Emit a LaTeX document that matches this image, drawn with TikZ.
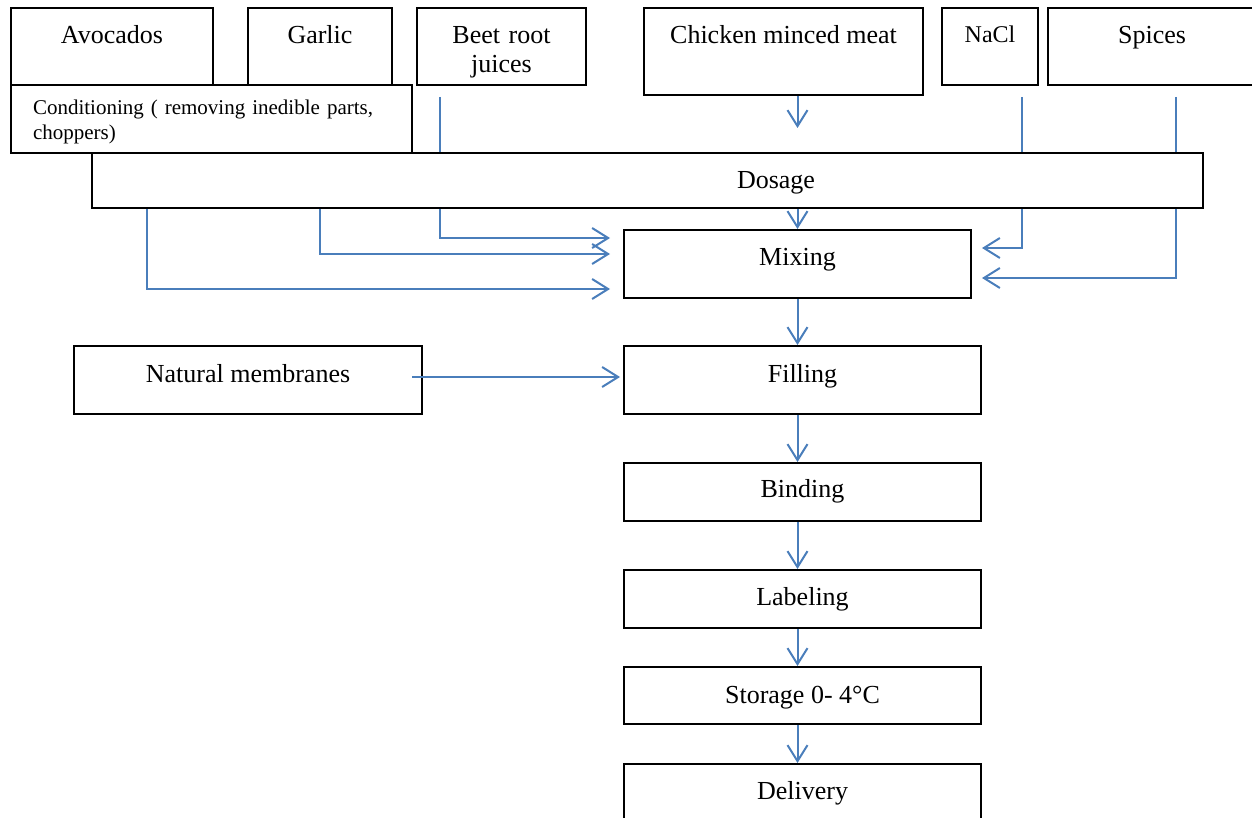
\documentclass[tikz,border=0pt]{standalone}
\usepackage{fontspec}
\setmainfont{Liberation Serif}
\usetikzlibrary{arrows.meta, backgrounds}
\definecolor{flowblue}{HTML}{4A7EBB}

\begin{document}
\begin{tikzpicture}[x=0.5pt, y=-0.5pt,
  box/.style={draw, line width=1pt, fill=white, inner sep=0pt, anchor=north west,
              align=center, font=\fontsize{13}{14.5}\selectfont},
  dims/.style n args={3}{minimum width={#1*0.5pt}, minimum height={#3*0.5pt},
              text height={#2*0.5pt}, text depth={(#3-#2)*0.5pt}},
  flow/.style={draw=flowblue, line width=1pt, -{Straight Barb[length=8pt, width=10pt]}},
]
  \useasboundingbox (0,0) rectangle (1252,818);

  % raw materials
  \node[box, dims={202}{36}{77}] (avo) at (10,7) {Avocados};
  \node[box, dims={144}{36}{77}] (garlic) at (247,7) {Garlic};
  \node[box, dims={169}{36}{77}, text width=84.5pt] (beet) at (416,7) {Beet root\\juices};
  \node[box, dims={279}{36}{87}] (chick) at (643,7) {Chicken minced meat};
  \node[box, dims={96}{35}{77}, font=\fontsize{12}{14}\selectfont] (nacl) at (941,7) {NaCl};
  \node[box, dims={208}{36}{77}] (spice) at (1047,7) {Spices};
  \node[box, dims={401}{30}{68}, text width=178.5pt, align=left,
        font=\fontsize{10.5}{12.5}\selectfont] (cond) at (10,84)
        {Conditioning ( removing inedible parts,\\choppers)};
  \node[box, dims={1111}{36}{55}, text width=555.5pt, align=left] (dose) at (91,152)
        {\hspace*{322.5pt}Dosage};

  % process line
  \node[box, dims={347}{35}{68}] (mix) at (623,229) {Mixing};
  \node[box, dims={348}{36}{68}] (memb) at (73,345) {Natural membranes};
  \node[box, dims={357}{36}{68}] (fill) at (623,345) {Filling};
  \node[box, dims={357}{34}{58}] (bind) at (623,462) {Binding};
  \node[box, dims={357}{35}{58}] (labl) at (623,569) {Labeling};
  \node[box, dims={357}{36}{57}] (store) at (623,666) {Storage 0- 4\textdegree C};
  \node[box, dims={357}{35}{70}] (deliv) at (623,763) {Delivery};

  % long feeds pass behind the dosage box
  \begin{scope}[on background layer]
    \draw[flow] ([xshift=-30.75pt, yshift=-5.5pt]beet.south) |- ([xshift=-6.5pt, yshift=13pt]mix.west);
    \draw[flow] ([xshift=16pt, yshift=-5.5pt]nacl.south) |- ([xshift=5pt, yshift=8pt]mix.east);
    \draw[flow] ([xshift=12pt, yshift=-5.5pt]spice.south) |- ([xshift=5pt, yshift=-7pt]mix.east);
  \end{scope}

  \draw[flow] (garlic.south |- dose.south) |- ([xshift=-6.5pt, yshift=5pt]mix.west);
  \draw[flow] ([xshift=17.5pt]avo.south |- dose.south) |- ([xshift=-6.5pt, yshift=-12.5pt]mix.west);
  \draw[flow, shorten >=12pt] (mix.north |- chick.south) -- (mix.north |- dose.north);
  \draw[flow] (mix.north |- dose.south) -- (mix.north);
  \draw[flow] (mix.south) -- (mix.south |- fill.north);
  \draw[flow] ([xshift=-5.5pt, yshift=1.5pt]memb.east) -- ([xshift=-1.5pt, yshift=1.5pt]fill.west);
  \foreach \a/\b in {fill/bind, bind/labl, labl/store, store/deliv}
    \draw[flow] (mix.south |- \a.south) -- (mix.south |- \b.north);
\end{tikzpicture}
\end{document}
